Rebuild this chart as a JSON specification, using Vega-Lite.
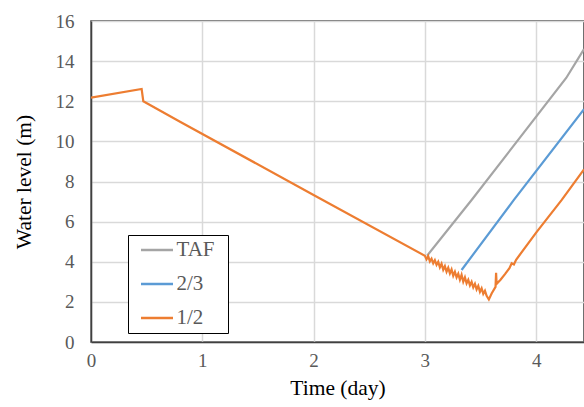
{
  "$schema": "https://vega.github.io/schema/vega-lite/v6.json",
  "width": 493,
  "height": 321,
  "autosize": {"type": "none"},
  "padding": {"left": 91, "top": 21, "right": 0, "bottom": 65},
  "background": "white",
  "config": {
    "view": {"stroke": "#404040", "strokeWidth": 1.5},
    "font": "Liberation Serif"
  },
  "data": {
    "values": [
      {"series": "TAF", "t": 3.02, "h": 4.3},
      {"series": "TAF", "t": 3.42, "h": 7.08},
      {"series": "TAF", "t": 4.27, "h": 13.16},
      {"series": "TAF", "t": 4.43, "h": 14.6},
      {"series": "2/3", "t": 3.33, "h": 3.59},
      {"series": "2/3", "t": 3.8, "h": 7.08},
      {"series": "2/3", "t": 4.43, "h": 11.6},
      {"series": "1/2", "t": 0.0, "h": 12.18},
      {"series": "1/2", "t": 0.455, "h": 12.61},
      {"series": "1/2", "t": 0.47, "h": 12.0},
      {"series": "1/2", "t": 0.8, "h": 10.98},
      {"series": "1/2", "t": 2.0, "h": 7.33},
      {"series": "1/2", "t": 3.0, "h": 4.3},
      {"series": "1/2", "t": 3.015, "h": 4.12},
      {"series": "1/2", "t": 3.03, "h": 4.28},
      {"series": "1/2", "t": 3.045, "h": 4.02},
      {"series": "1/2", "t": 3.06, "h": 4.15},
      {"series": "1/2", "t": 3.075, "h": 3.92},
      {"series": "1/2", "t": 3.09, "h": 4.08},
      {"series": "1/2", "t": 3.105, "h": 3.85},
      {"series": "1/2", "t": 3.12, "h": 4.0},
      {"series": "1/2", "t": 3.135, "h": 3.72},
      {"series": "1/2", "t": 3.15, "h": 3.9},
      {"series": "1/2", "t": 3.165, "h": 3.6},
      {"series": "1/2", "t": 3.18, "h": 3.78},
      {"series": "1/2", "t": 3.195, "h": 3.5},
      {"series": "1/2", "t": 3.21, "h": 3.7},
      {"series": "1/2", "t": 3.225, "h": 3.42},
      {"series": "1/2", "t": 3.24, "h": 3.62},
      {"series": "1/2", "t": 3.255, "h": 3.3},
      {"series": "1/2", "t": 3.27, "h": 3.5},
      {"series": "1/2", "t": 3.285, "h": 3.22},
      {"series": "1/2", "t": 3.3, "h": 3.4},
      {"series": "1/2", "t": 3.315, "h": 3.1},
      {"series": "1/2", "t": 3.33, "h": 3.35},
      {"series": "1/2", "t": 3.345, "h": 3.0},
      {"series": "1/2", "t": 3.36, "h": 3.22},
      {"series": "1/2", "t": 3.375, "h": 2.92},
      {"series": "1/2", "t": 3.39, "h": 3.1},
      {"series": "1/2", "t": 3.405, "h": 2.82},
      {"series": "1/2", "t": 3.42, "h": 3.0},
      {"series": "1/2", "t": 3.435, "h": 2.72},
      {"series": "1/2", "t": 3.45, "h": 2.9},
      {"series": "1/2", "t": 3.465, "h": 2.62},
      {"series": "1/2", "t": 3.48, "h": 2.8},
      {"series": "1/2", "t": 3.495, "h": 2.5},
      {"series": "1/2", "t": 3.51, "h": 2.68},
      {"series": "1/2", "t": 3.525, "h": 2.4},
      {"series": "1/2", "t": 3.54, "h": 2.55},
      {"series": "1/2", "t": 3.555, "h": 2.3},
      {"series": "1/2", "t": 3.575, "h": 2.12},
      {"series": "1/2", "t": 3.6, "h": 2.42},
      {"series": "1/2", "t": 3.635, "h": 2.75},
      {"series": "1/2", "t": 3.64, "h": 3.45},
      {"series": "1/2", "t": 3.645, "h": 2.9},
      {"series": "1/2", "t": 3.68, "h": 3.1},
      {"series": "1/2", "t": 3.72, "h": 3.38},
      {"series": "1/2", "t": 3.76, "h": 3.68},
      {"series": "1/2", "t": 3.78, "h": 3.92},
      {"series": "1/2", "t": 3.8, "h": 3.86},
      {"series": "1/2", "t": 3.82, "h": 4.1},
      {"series": "1/2", "t": 4.0, "h": 5.45},
      {"series": "1/2", "t": 4.23, "h": 7.08},
      {"series": "1/2", "t": 4.43, "h": 8.6}
    ]
  },
  "encoding": {
    "x": {
      "field": "t", "type": "quantitative",
      "scale": {"domain": [0, 4.43], "nice": false, "zero": false},
      "axis": {
        "title": "Time (day)", "values": [0, 1, 2, 3, 4], "ticks": false,
        "labelFont": "Liberation Serif", "labelFontSize": 19, "labelColor": "#595959",
        "labelPadding": 9, "labelFlush": false,
        "domainColor": "#404040", "domainWidth": 1.5,
        "gridColor": "#D9D9D9", "gridWidth": 1.5,
        "titleFont": "Liberation Serif", "titleFontSize": 21.5, "titleFontWeight": "normal",
        "titleColor": "#000000", "titlePadding": 7
      }
    },
    "y": {
      "field": "h", "type": "quantitative",
      "scale": {"domain": [0, 16], "nice": false},
      "axis": {
        "title": "Water level (m)", "values": [0, 2, 4, 6, 8, 10, 12, 14, 16], "ticks": false,
        "labelFont": "Liberation Serif", "labelFontSize": 19, "labelColor": "#595959",
        "labelPadding": 17,
        "domainColor": "#404040", "domainWidth": 1.5,
        "gridColor": "#D9D9D9", "gridWidth": 1.5,
        "titleFont": "Liberation Serif", "titleFontSize": 21.5, "titleFontWeight": "normal",
        "titleColor": "#000000", "titlePadding": 20
      }
    },
    "color": {
      "field": "series", "type": "nominal",
      "scale": {"domain": ["TAF", "2/3", "1/2"], "range": ["#A5A5A5", "#5B9BD5", "#ED7D31"]},
      "legend": {
        "title": "\u00a0", "titleOrient": "right", "titlePadding": 9, "titleFontSize": 10,
        "orient": "none", "legendX": 37, "legendY": 214,
        "symbolType": "M-2,0H2", "symbolStrokeWidth": 2.5, "symbolSize": 256, "symbolOffset": 14,
        "labelFont": "Liberation Serif", "labelFontSize": 21, "labelColor": "#595959",
        "labelOffset": 9, "rowPadding": 12,
        "strokeColor": "#000000", "fillColor": "#FFFFFF", "padding": 4.5
      }
    }
  },
  "layer": [
    {"transform": [{"filter": "datum.series === 'TAF'"}], "mark": {"type": "line", "strokeWidth": 2.2, "clip": true}},
    {"transform": [{"filter": "datum.series === '2/3'"}], "mark": {"type": "line", "strokeWidth": 2.2, "clip": true}},
    {"transform": [{"filter": "datum.series === '1/2'"}], "mark": {"type": "line", "strokeWidth": 2.2, "clip": true}}
  ]
}
